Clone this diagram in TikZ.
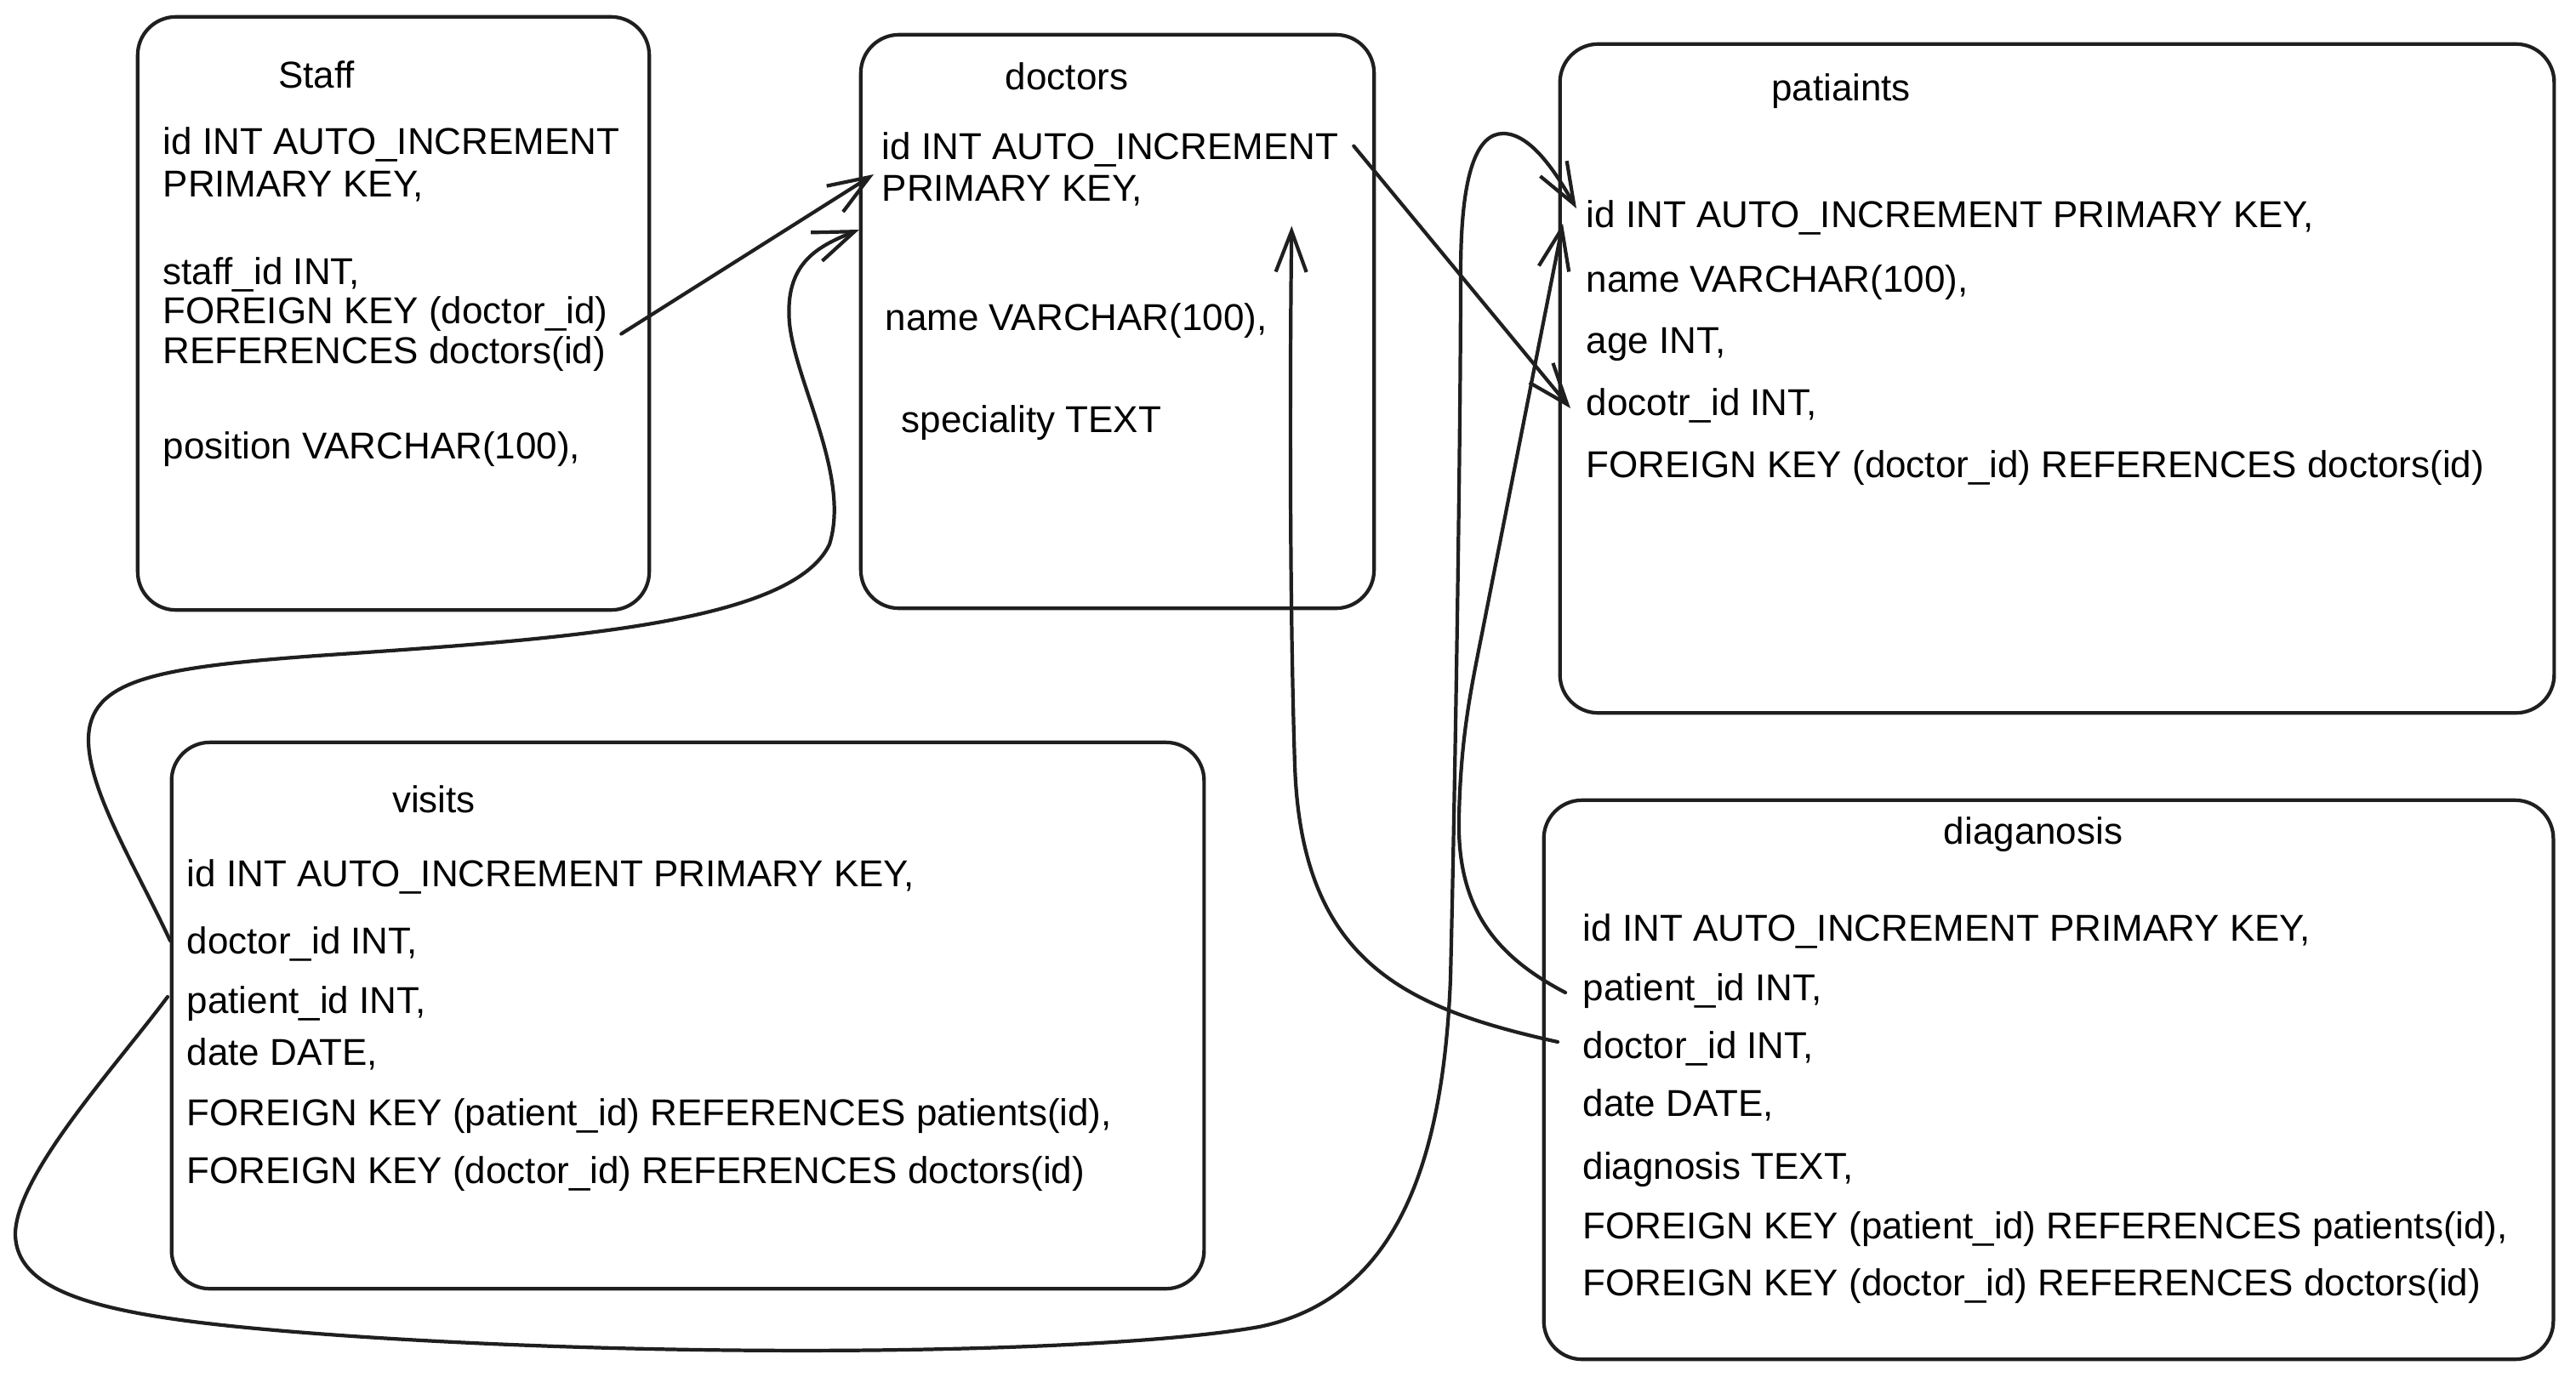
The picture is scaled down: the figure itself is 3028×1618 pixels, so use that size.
\documentclass[tikz,border=0pt]{standalone}
\usepackage{fontspec}
\setmainfont{Liberation Sans}
\usetikzlibrary{arrows.meta, calc}

\tikzset{
  every node/.style={font=\fontsize{12.5}{15}\selectfont},
  table/.style={
    draw=black!88, rounded corners=4.5mm, line width=1.2pt,
    inner sep=0pt
  },
  link/.style={-{Straight Barb[length=4.8mm,width=3.6mm]}, line width=1.2pt, draw=black!88, line cap=round},
}

\begin{document}
\begin{tikzpicture}[
      x=0.01cm, y=-0.01cm,
      title/.style={inner sep=0pt, text height=1.4ex, text depth=0pt},
      row/.style={anchor=west, inner sep=0pt, text height=1.4ex, text depth=0pt}
    ]
    \useasboundingbox (0,0) rectangle (3028,1618);

    % Tables
    \node[table, minimum width=6.01cm, minimum height=6.97cm] (staff) at (462.5,368.5) {};
    \node[table, minimum width=6.03cm, minimum height=6.74cm] (doctors) at (1313.5,378) {};
    \node[table, minimum width=11.68cm, minimum height=7.86cm] (patients) at (2418,445) {};
    \node[table, minimum width=12.13cm, minimum height=6.42cm] (visits) at (808.5,1194) {};
    \node[table, minimum width=11.86cm, minimum height=6.57cm] (diagnosis) at (2408,1269.5) {};

    % Staff
    \node[title] (staff-t) at (372,90) {Staff};
    \node[row] (staff-id) at (191,168) {id INT AUTO\_INCREMENT};
    \node[row] (staff-pk) at (191,218) {PRIMARY KEY,};
    \node[row] (staff-sid) at (191,321) {staff\_id INT,};
    \node[row] (staff-fk) at (191,367) {FOREIGN KEY (doctor\_id)};
    \node[row] (staff-ref) at (191,414) {REFERENCES doctors(id)};
    \node[row] (staff-pos) at (191,526) {position VARCHAR(100),};

    % doctors
    \node[title] (doc-t) at (1254,92) {doctors};
    \node[row] (doc-id) at (1036,174) {id INT AUTO\_INCREMENT};
    \node[row] (doc-pk) at (1036,223) {PRIMARY KEY,};
    \node[row] (doc-name) at (1040,375) {name VARCHAR(100),};
    \node[row] (doc-spec) at (1059,495) {speciality TEXT};

    % patients
    \node[title] (pat-t) at (2164,105) {patiaints};
    \node[row] (pat-id) at (1864,254) {id INT AUTO\_INCREMENT PRIMARY KEY,};
    \node[row] (pat-name) at (1864,330) {name VARCHAR(100),};
    \node[row] (pat-age) at (1864,402) {age INT,};
    \node[row] (pat-doc) at (1864,475) {docotr\_id INT,};
    \node[row] (pat-fk) at (1864,548) {FOREIGN KEY (doctor\_id) REFERENCES doctors(id)};

    % visits
    \node[title] (vis-t) at (510,942) {visits};
    \node[row] (vis-id) at (219,1029) {id INT AUTO\_INCREMENT PRIMARY KEY,};
    \node[row] (vis-doc) at (219,1108) {doctor\_id INT,};
    \node[row] (vis-pat) at (219,1178) {patient\_id INT,};
    \node[row] (vis-date) at (219,1239) {date DATE,};
    \node[row] (vis-fkp) at (219,1310) {FOREIGN KEY (patient\_id) REFERENCES patients(id),};
    \node[row] (vis-fkd) at (219,1378) {FOREIGN KEY (doctor\_id) REFERENCES doctors(id)};

    % diagnosis
    \node[title] (diag-t) at (2390,979) {diaganosis};
    \node[row] (diag-id) at (1860,1093) {id INT AUTO\_INCREMENT PRIMARY KEY,};
    \node[row] (diag-pat) at (1860,1163) {patient\_id INT,};
    \node[row] (diag-doc) at (1860,1231) {doctor\_id INT,};
    \node[row] (diag-date) at (1860,1299) {date DATE,};
    \node[row] (diag-text) at (1860,1373) {diagnosis TEXT,};
    \node[row] (diag-fkp) at (1860,1443) {FOREIGN KEY (patient\_id) REFERENCES patients(id),};
    \node[row] (diag-fkd) at (1860,1510) {FOREIGN KEY (doctor\_id) REFERENCES doctors(id)};

    % Links
    \draw[link] ([shift={(-35,24)}]staff.east) -- ([shift={(-9,-18)}]doc-pk.west);
    \draw[link] ([shift={(-26,133)}]doctors.north east) -- ([shift={(-18,5)}]pat-doc.west);

    \draw[link] ([shift={(-19,-2)}]vis-doc.west)
      .. controls (160,1020) and (104,930) .. (104,870)
      .. controls (104,800) and (180,785) .. (372,771)
      .. controls (650,752) and (930,735) .. (975,640)
      .. controls (1000,560) and (935,450) .. (928,380)
      .. controls (922,310) and (960,290) .. ([shift={(-26,47)}]doc-pk.west);

    \draw[link] ([shift={(-22,-6)}]vis-pat.west)
      .. controls (135,1255) and (20,1380) .. (18,1450)
      .. controls (18,1530) and (150,1552) .. (400,1570)
      .. controls (800,1598) and (1300,1592) .. (1480,1560)
      .. controls (1650,1525) and (1697,1350) .. (1705,1150)
      .. controls (1711,900) and (1717,500) .. (1717,320)
      .. controls (1717,200) and (1737,157) .. (1767,157)
      .. controls (1800,157) and (1830,205) .. ([shift={(-11,-9)}]pat-id.west);

    \draw[link] ([shift={(-20,4)}]diag-pat.west)
      .. controls (1760,1125) and (1712,1070) .. (1715,960)
      .. controls (1717,870) and (1728,815) .. (1741,750)
      -- ([shift={(-27,9)}]pat-id.west);

    \draw[link] ([shift={(-29,-6)}]diag-doc.west)
      .. controls (1650,1185) and (1530,1130) .. (1522,900)
      .. controls (1516,720) and (1516,450) .. ([shift={(-99,227)}]doctors.north east);

\end{tikzpicture}
\end{document}
